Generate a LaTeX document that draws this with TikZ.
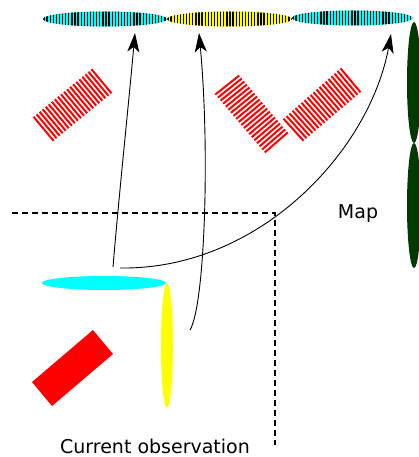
\documentclass[tikz,border=0pt]{standalone}
\usepackage{fontspec}
\setmainfont{DejaVu Sans}
\usetikzlibrary{calc,arrows.meta}
\definecolor{dkgreen}{RGB}{0,58,0}
\definecolor{cyn}{RGB}{0,255,255}
\definecolor{ylw}{RGB}{255,255,0}
\definecolor{rd}{RGB}{255,0,0}
\tikzset{
  conn/.style={draw=black, line width=0.9pt, -{Stealth[length=19pt,width=12pt,inset=5pt]}},
  sep/.style={draw=black, line width=1.3pt, dash pattern=on 6pt off 4pt},
  lbl/.style={font=\fontsize{19}{22}\selectfont, inner sep=0pt}
}
\newcommand{\hatchrect}[4]{%
  \foreach \i in {0,...,19}{%
    \pgfmathsetmacro{\t}{(\i+0.5)/20}
    \draw[rd, line width=2pt] ($#1!\t!#2$) -- ($#4!\t!#3$);
  }}
\newcommand{\hatchell}[4]{%
  \begin{scope}
    \clip (#1,#2) ellipse [x radius=#3, y radius=7.5];
    \fill[#4] (#1,#2) ellipse [x radius=#3, y radius=7.5];
    \foreach \k in {0,...,45}{%
      \pgfmathsetmacro{\xx}{#1-#3+1+\k*3.1}
      \draw[black, line width=1.3pt] (\xx,#2-9) -- (\xx,#2+9);
    }
  \end{scope}}
\begin{document}
\begin{tikzpicture}[x=1pt,y=-1pt]
\useasboundingbox (0,0) rectangle (418,457);
% top map ellipses
\hatchell{105}{19}{62}{cyn}
\hatchell{229.5}{19}{62.5}{ylw}
\hatchell{352.5}{18}{60.5}{cyn}
% dark green ellipses
\fill[dkgreen] (414,82.5) ellipse [x radius=7, y radius=60.5];
\fill[dkgreen] (414,205.5) ellipse [x radius=7, y radius=62.5];
% hatched rectangles (map)
\hatchrect{(32,118)}{(93,68)}{(113,92)}{(52,142)}
\hatchrect{(214,93)}{(266,154)}{(289,134)}{(238,74)}
\hatchrect{(282,120)}{(342,67)}{(362,91)}{(302,142)}
% current observation
\fill[cyn] (104,283) ellipse [x radius=62, y radius=7];
\fill[ylw] (167,345.5) ellipse [x radius=6, y radius=62.5];
\fill[rd] (32,382) -- (93,330) -- (113,354) -- (52,406) -- cycle;
% separators
\coordinate (hl) at (12,213);
\coordinate (cr) at (275,213);
\coordinate (vb) at (275,445);
\draw[sep] (hl) -- (cr) -- (vb);
% labels
\node[lbl] (map) at (358,214) {Map};
\node[lbl] (obs) at (155,446) {Current observation};
% connectors
\coordinate (s1) at (113,267);
\coordinate (e1) at (135,33);
\coordinate (s2) at (190,330);
\coordinate (e2) at (199,33);
\coordinate (s3) at (120,268);
\coordinate (e3) at (391,34);
\draw[conn] (s1) .. controls (119,195) and (129,100) .. (e1);
\draw[conn] (s2) .. controls (205,305) and (210,150) .. (e2);
\draw[conn] (s3) .. controls (260,270) and (370,150) .. (e3);
\end{tikzpicture}
\end{document}
